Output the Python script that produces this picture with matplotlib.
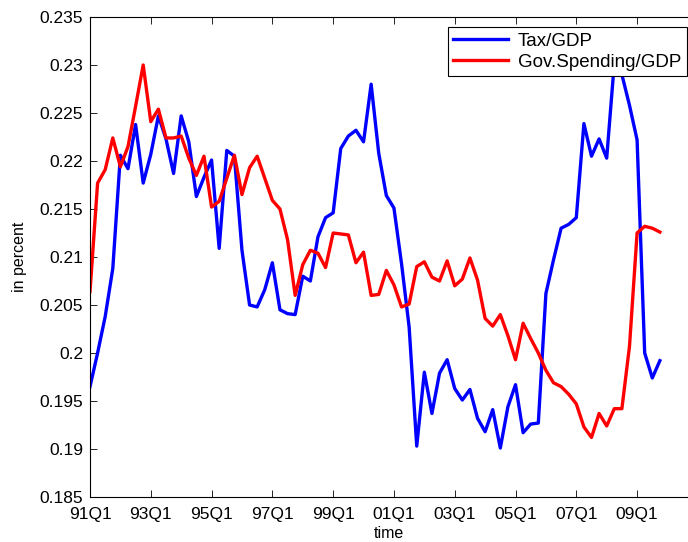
import matplotlib
matplotlib.use("Agg")
import matplotlib.pyplot as plt
from matplotlib.ticker import FuncFormatter

plt.rcParams['font.family'] = ['Liberation Sans', 'DejaVu Sans']

# Quarterly ratios, 1991Q1 .. 2009Q4
tax_gdp = [
    0.1965, 0.2000, 0.2038, 0.2088, 0.2206, 0.2192, 0.2238, 0.2177,
    0.2207, 0.2247, 0.2223, 0.2187, 0.2247, 0.2220, 0.2163, 0.2183,
    0.2201, 0.2109, 0.2211, 0.2205, 0.2107, 0.2050, 0.2048, 0.2066,
    0.2094, 0.2045, 0.2041, 0.2040, 0.2080, 0.2075, 0.2121, 0.2141,
    0.2146, 0.2213, 0.2226, 0.2232, 0.2220, 0.2280, 0.2208, 0.2164,
    0.2151, 0.2093, 0.2027, 0.1903, 0.1980, 0.1937, 0.1979, 0.1993,
    0.1963, 0.1951, 0.1962, 0.1932, 0.1918, 0.1941, 0.1901, 0.1944,
    0.1967, 0.1917, 0.1926, 0.1927, 0.2062, 0.2097, 0.2130, 0.2134,
    0.2141, 0.2239, 0.2205, 0.2223, 0.2203, 0.2302, 0.2290, 0.2258,
    0.2222, 0.2000, 0.1974, 0.1992,
]
gov_spending_gdp = [
    0.2064, 0.2177, 0.2191, 0.2224, 0.2194, 0.2215, 0.2257, 0.2300,
    0.2241, 0.2254, 0.2224, 0.2224, 0.2226, 0.2203, 0.2185, 0.2205,
    0.2152, 0.2158, 0.2182, 0.2206, 0.2165, 0.2193, 0.2205, 0.2182,
    0.2159, 0.2150, 0.2118, 0.2060, 0.2092, 0.2107, 0.2104, 0.2089,
    0.2125, 0.2124, 0.2123, 0.2094, 0.2105, 0.2060, 0.2061, 0.2086,
    0.2071, 0.2048, 0.2051, 0.2090, 0.2095, 0.2079, 0.2075, 0.2096,
    0.2070, 0.2077, 0.2099, 0.2076, 0.2036, 0.2028, 0.2040, 0.2018,
    0.1993, 0.2031, 0.2015, 0.2000, 0.1982, 0.1969, 0.1965, 0.1957,
    0.1947, 0.1923, 0.1912, 0.1937, 0.1924, 0.1942, 0.1942, 0.2007,
    0.2125, 0.2132, 0.2130, 0.2126,
]
tick_labels = ['91Q1', '93Q1', '95Q1', '97Q1', '99Q1',
               '01Q1', '03Q1', '05Q1', '07Q1', '09Q1']

quarters = list(range(1, len(tax_gdp) + 1))
tick_pos = [1 + 8 * k for k in range(len(tick_labels))]

fig = plt.figure(figsize=(6.88, 5.42), dpi=100)
ax = fig.add_axes([90 / 688, 45 / 542, 598 / 688, 480 / 542])

ax.plot(quarters, tax_gdp, color='#0000ff', lw=2.4, label='Tax/GDP')
ax.plot(quarters, gov_spending_gdp, color='#ff0000', lw=2.4,
        label='Gov.Spending/GDP')

ax.set_xlim(1, 79.7)
ax.set_ylim(0.185, 0.235)
ax.set_xticks(tick_pos)
ax.set_xticklabels(tick_labels)
ax.set_yticks([0.185 + 0.005 * k for k in range(11)])
ax.yaxis.set_major_formatter(FuncFormatter(lambda v, p: ('%.3f' % v).rstrip('0')))

ax.tick_params(direction='in', top=True, right=False, length=5,
               width=0.6, labelsize=12.5, colors='black')
ax.tick_params(axis='x', pad=7)
ax.tick_params(axis='y', pad=5)
ax.spines['right'].set_visible(False)
for s in ('left', 'top', 'bottom'):
    ax.spines[s].set_linewidth(0.8)

ax.set_xlabel('time', fontsize=11.5, labelpad=3)
ax.set_ylabel('in percent', fontsize=11.5, labelpad=9)

leg = ax.legend(loc='upper right', bbox_to_anchor=(687 / 688, 1 - 27 / 542),
                bbox_transform=fig.transFigure, borderaxespad=0,
                fancybox=False, framealpha=1, edgecolor='black',
                fontsize=13.5, handlelength=2.9, handletextpad=0.55,
                labelspacing=0.2, borderpad=0.3)
leg.get_frame().set_linewidth(0.8)

fig.savefig('out.png', dpi=100)
